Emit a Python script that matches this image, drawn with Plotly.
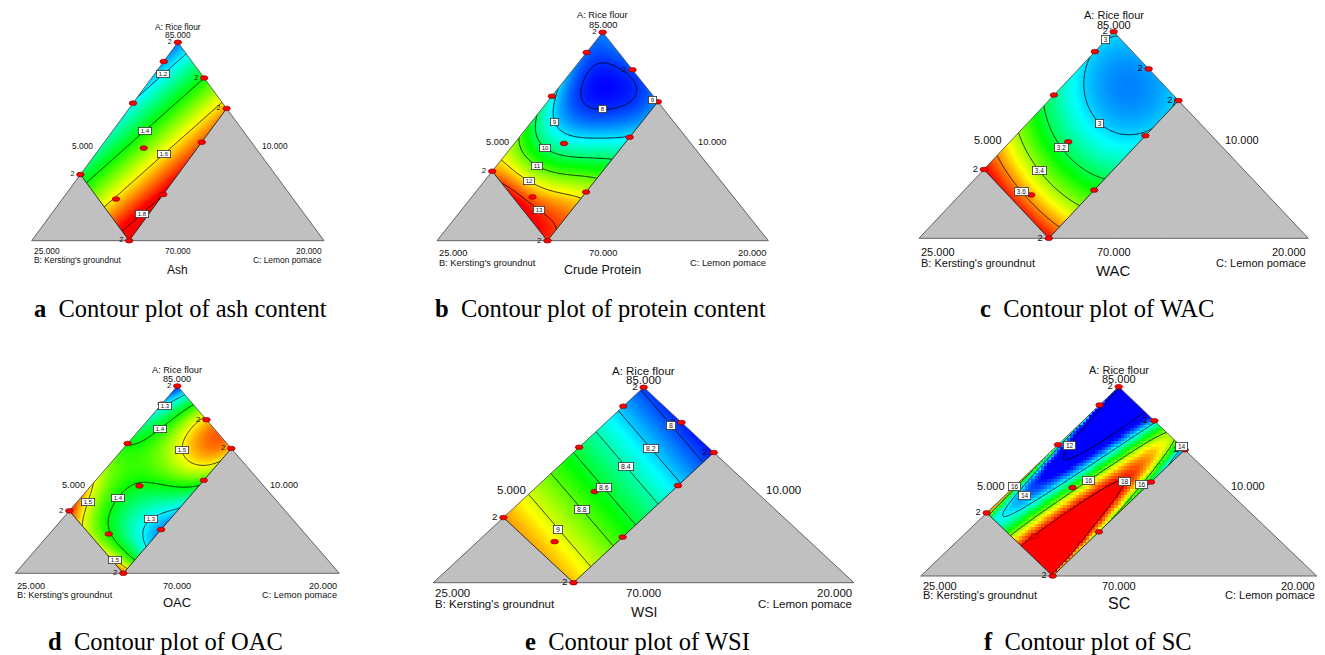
import numpy as np
import plotly.graph_objects as go

FIG_W, FIG_H = 1325, 655
PAGE_OFF = 8.0   # the html page body margin shifts the figure by this many pixels

# ------------------------------------------------------------------
# Mixture design (actual %, A + B + C = 100)
# ------------------------------------------------------------------
A_LOW, B_LOW, C_LOW = 70.0, 10.0, 5.0
SPAN = 15.0                       # simplex span of the pseudo components
B_HIGH, C_HIGH = 20.0, 10.0       # upper constraints that cut the region

design_A = [85.0, 83.55, 80.4, 82.3, 80.0, 75.0, 77.0, 77.45, 73.15, 73.5, 70.0]
design_B = [10.0, 11.45, 14.6, 10.0, 10.0, 20.0, 15.75, 12.55, 19.1, 16.5, 20.0]
design_C = [5.0, 5.0, 5.0, 7.7, 10.0, 5.0, 7.25, 10.0, 7.75, 10.0, 10.0]
design_reps = [2, 1, 1, 2, 2, 2, 1, 1, 1, 1, 2]

# ------------------------------------------------------------------
# Response values (B %, C %, response)
# ------------------------------------------------------------------
ash_B = [14.3, 10.0, 20.0, 14.89, 10.0, 20.0, 14.84, 10.2, 18.3, 20.0, 16.3]
ash_C = [5.0, 5.93, 5.63, 6.5, 7.72, 7.57, 8.37, 9.6, 9.57, 9.4, 10.0]
ash_val = [1.2, 1.2, 1.4, 1.4, 1.4, 1.6, 1.6, 1.6, 1.8, 1.8, 1.8]

protein_B = [11.19, 13.22, 11.02, 12.81, 13.42, 10.6, 12.0,
             14.3, 15.41, 15.6, 14.4, 12.68,
             16.0, 16.52, 16.79, 15.48, 14.1,
             17.6, 17.8, 17.57, 15.9,
             19.0, 18.71, 18.17, 16.83,
             19.65, 19.1, 19.6, 20.0, 20.0, 20.0,
             10.0, 10.0, 10.0, 12.0]
protein_C = [6.22, 6.29, 8.62, 7.78, 6.94, 7.45, 7.35,
             5.0, 6.07, 6.55, 8.23, 9.83,
             5.0, 5.88, 6.57, 8.4, 10.0,
             5.0, 6.85, 7.45, 9.73,
             5.0, 7.04, 8.07, 10.0,
             6.83, 8.52, 10.0, 8.25, 5.0, 10.0,
             5.0, 10.0, 7.5, 5.0]
protein_val = [8, 8, 8, 8, 8, 8, 7.75,
               9, 9, 9, 9, 9,
               10, 10, 10, 10, 10,
               11, 11, 11, 11,
               12, 12, 12, 12,
               13, 13, 13, 13.4, 12.4, 13.1,
               8.4, 8.6, 8.1, 8.5]

wac_B = [10.5, 11.8, 13.0, 13.8, 13.5, 12.1, 10.6, 11.1, 10.0, 10.0, 10.0,
         15.5, 16.3, 16.2, 15.85, 17.4, 17.9, 17.65, 18.8, 19.2, 18.95,
         20.0, 20.0, 20.0]
wac_C = [5.0, 5.15, 5.85, 7.0, 8.85, 9.8, 9.85, 7.75, 5.0, 10.0, 7.5,
         5.0, 7.2, 9.0, 10.0, 5.0, 7.2, 10.0, 5.0, 7.25, 10.0,
         5.0, 10.0, 7.5]
wac_val = [3.0, 3.0, 3.0, 3.0, 3.0, 3.0, 3.0, 2.93, 3.01, 3.0, 2.95,
           3.2, 3.2, 3.2, 3.2, 3.4, 3.4, 3.4, 3.6, 3.6, 3.6,
           3.72, 3.7, 3.68]

oac_B = [10.0, 11.3, 10.0, 10.1, 12.46, 14.27, 14.94,
         10.26, 11.54, 12.24, 12.45, 11.5, 11.09, 10.0, 10.0,
         12.6, 14.39, 15.73, 17.24, 18.61, 19.21, 19.0,
         15.2, 16.49, 17.8, 16.5,
         17.5, 18.75, 20.0, 20.0,
         20.0, 19.71, 19.5, 20.0,
         14.5, 16.2, 13.0, 18.0, 20.0, 13.5]
oac_C = [5.0, 5.0, 5.85, 6.43, 5.86, 6.13, 5.1,
         7.2, 7.25, 7.8, 8.48, 10.0, 8.5, 10.0, 8.5,
         10.0, 8.41, 7.28, 6.63, 7.39, 9.05, 10.0,
         10.0, 9.03, 10.0, 9.75,
         5.0, 5.52, 6.45, 5.0,
         8.5, 9.1, 10.0, 10.0,
         6.75, 5.0, 6.75, 8.0, 7.5, 5.0]
oac_val = [1.2, 1.3, 1.3, 1.4, 1.4, 1.4, 1.4,
           1.5, 1.5, 1.5, 1.5, 1.5, 1.56, 1.52, 1.54,
           1.4, 1.4, 1.4, 1.4, 1.4, 1.4, 1.4,
           1.3, 1.3, 1.3, 1.25,
           1.5, 1.5, 1.5, 1.6,
           1.5, 1.5, 1.5, 1.55,
           1.43, 1.45, 1.45, 1.37, 1.45, 1.35]

wsi_B = [10.59, 10.39, 10.82, 11.45, 11.96, 12.37, 13.37, 13.65, 14.05,
         15.1, 15.18, 15.69, 16.65, 16.8, 17.2, 18.3, 18.45, 18.7]
wsi_C = [5.0, 7.46, 10.0, 5.0, 7.6, 10.0, 5.0, 7.44, 10.0,
         5.0, 7.45, 10.0, 5.0, 7.52, 10.0, 5.0, 7.4, 10.0]
wsi_val = [8.0, 8.0, 8.0, 8.2, 8.2, 8.2, 8.4, 8.4, 8.4,
           8.6, 8.6, 8.6, 8.8, 8.8, 8.8, 9.0, 9.0, 9.0]

# SC read along sections of constant B
sc_section_B = [10.0, 11.5, 13.0, 14.5, 16.0, 18.0, 20.0]
sc_section_C = [
    [5.0, 5.5, 6.0, 6.5, 7.2, 7.7, 8.15, 8.6, 9.0, 9.5, 9.75, 10.0],
    [5.0, 5.15, 5.5, 6.0, 6.5, 7.0, 7.5, 7.85, 8.3, 9.0, 9.5, 10.0],
    [5.0, 5.175, 5.5, 6.0, 6.5, 6.8, 7.1, 7.65, 8.5, 9.0, 9.65, 10.0],
    [5.0, 5.2, 5.5, 5.95, 6.4, 6.9, 7.45, 8.1, 8.78, 9.0, 9.3, 9.88, 10.0],
    [5.0, 5.225, 5.5, 5.9, 6.25, 6.57, 7.34, 7.9, 8.42, 9.0, 9.5, 9.83, 10.0],
    [5.0, 5.25, 5.77, 6.1, 6.5, 7.07, 7.5, 7.93, 9.0, 9.65, 10.0],
    [5.0, 5.5, 6.0, 6.4, 6.8, 7.42, 8.75, 9.65, 10.0],
]
sc_section_val = [
    [12.0, 11.6, 11.4, 11.5, 12.0, 14.0, 15.2, 16.0, 16.3, 15.2, 14.0, 13.2],
    [13.5, 12.0, 11.2, 11.0, 11.3, 12.0, 13.5, 15.0, 16.0, 17.0, 16.3, 14.5],
    [14.5, 12.3, 11.3, 11.0, 11.6, 12.3, 14.0, 16.0, 17.5, 17.8, 16.0, 14.8],
    [15.8, 12.8, 12.6, 12.2, 12.7, 14.0, 16.0, 17.3, 18.0, 18.3, 18.0, 16.0, 15.5],
    [16.5, 13.2, 13.0, 12.6, 13.1, 14.0, 16.0, 17.2, 18.0, 18.6, 18.4, 17.5, 16.0],
    [17.2, 14.5, 13.6, 13.0, 14.0, 16.0, 17.1, 18.0, 19.2, 18.3, 16.5],
    [18.0, 15.0, 14.3, 14.8, 16.0, 18.0, 19.5, 18.8, 17.5],
]
sc_B = [b for b, cs in zip(sc_section_B, sc_section_C) for _ in cs]
sc_C = [c for cs in sc_section_C for c in cs]
sc_val = [z for zs in sc_section_val for z in zs]

titles = ["Ash", "Crude Protein", "WAC", "OAC", "WSI", "SC"]
caption_letters = ["a", "b", "c", "d", "e", "f"]
caption_texts = ["Contour plot of ash content", "Contour plot of protein content",
                 "Contour plot of WAC", "Contour plot of OAC",
                 "Contour plot of WSI", "Contour plot of SC"]

# ------------------------------------------------------------------
# Model terms (in the scaled B (u) and C (v) of the constrained region)
#   (i, j)      -> u^i v^j
#   ('L', i, p) -> u^i (1 - v)^p   (steep edge term at the C-low side)
#   ('R', i, p) -> u^i v^p         (steep edge term at the C-high side)
# ------------------------------------------------------------------
def tensor_terms(pu, pv):
    return [(i, j) for i in range(pu + 1) for j in range(pv + 1)]

LINEAR = [(0, 0), (1, 0), (0, 1)]
SC_TERMS = tensor_terms(3, 4) + [('L', 0, 24), ('L', 1, 24), ('R', 0, 24), ('R', 1, 24)]

RESPONSES = [
    dict(B=ash_B, C=ash_C, val=ash_val, terms=LINEAR, zr=(1.02, 1.78),
         levels=(1.2, 1.8, 0.2), cell=1.0,
         labels=[("1.2", 1.2, 0.176, 0.044), ("1.4", 1.4, 0.489, 0.299),
                 ("1.6", 1.6, 0.484, 0.674), ("1.8", 1.8, 0.83, 0.914)]),
    dict(B=protein_B, C=protein_C, val=protein_val, terms=tensor_terms(3, 3), zr=(7.75, 13.3),
         levels=(8, 13, 1), cell=1.0,
         labels=[("8", 8, 0.281, 0.556), ("9", 9, 0.541, 0.213), ("10", 10, 0.679, 0.313),
                 ("11", 11, 0.78, 0.37), ("12", 12, 0.871, 0.408), ("13", 13, 0.91, 0.704),
                 ("9", None, 0.016, 0.943)]),
    dict(B=wac_B, C=wac_C, val=wac_val, terms=tensor_terms(3, 2), zr=(2.81, 3.72),
         levels=(3.0, 3.6, 0.2), cell=1.0,
         labels=[("3", None, 0.06, 0.0), ("3", 3.0, 0.375, 0.556), ("3.2", 3.2, 0.629, 0.436),
                 ("3.4", 3.4, 0.792, 0.439), ("3.6", 3.6, 0.92, 0.449)]),
    dict(B=oac_B, C=oac_C, val=oac_val, terms=tensor_terms(3, 3), zr=(1.2, 1.6),
         levels=(1.3, 1.5, 0.1), cell=1.0,
         labels=[("1.3", 1.3, 0.126, 0.025), ("1.4", 1.4, 0.2456, 0.171), ("1.5", 1.5, 0.224, 0.56),
                 ("1.4", 1.4, 0.724, 0.325), ("1.3", 1.3, 0.649, 0.805), ("1.5", 1.5, 0.875, 0.103),
                 ("1.5", 1.5, 0.971, 0.819)]),
    dict(B=wsi_B, C=wsi_C, val=wsi_val, terms=LINEAR, zr=(7.88, 9.45),
         levels=(8.0, 9.0, 0.2), cell=1.0,
         labels=[("8", 8.0, 0.0388, 0.491), ("8.2", 8.2, 0.196, 0.52), ("8.4", 8.4, 0.365, 0.488),
                 ("8.6", 8.6, 0.518, 0.49), ("8.8", 8.8, 0.68, 0.504), ("9", 9.0, 0.845, 0.481)]),
    dict(B=sc_B, C=sc_C, val=sc_val, terms=SC_TERMS, zr=(12.65, 18.05),
         levels=(12, 18, 2), cell=3.2,
         labels=[("12", 12, 0.385, 0.128), ("16", 16, 0.479, 0.504), ("18", 18, 0.375, 0.791),
                 ("16", 16, 0.305, 0.933), ("14", None, 0.0, 0.952), ("16", None, 0.79, 0.0),
                 ("14", 14, 0.789, 0.154)]),
]

# ------------------------------------------------------------------
# Panel placement (pixels in the page) and text styling
# ------------------------------------------------------------------
PANELS = [
    dict(xB=31.7, xC=324.0, yA=42.3, yBase=240.7, fs=8.4, t1=7.3, t2=15.5, b1=10.3, b2=19.3,
         sl=-9.5, sr=8.6, tdy=29, tfs=12, cap=(180, 308)),
    dict(xB=437.0, xC=768.3, yA=32.3, yBase=240.7, fs=9.3, t1=7.3, t2=17.2, b1=12.0, b2=22.0,
         sl=-9.0, sr=11.0, tdy=29, tfs=12.5, cap=(600, 308)),
    dict(xB=919.0, xC=1308.3, yA=31.7, yBase=238.3, fs=11.0, t1=6.7, t2=16.8, b1=13.4, b2=24.4,
         sl=-12.0, sr=11.7, tdy=32, tfs=15, cap=(1097, 308)),
    dict(xB=15.3, xC=339.3, yA=386.0, yBase=573.3, fs=9.2, t1=7.0, t2=15.8, b1=12.7, b2=21.7,
         sl=-9.6, sr=10.0, tdy=29, tfs=13, cap=(165, 641)),
    dict(xB=433.3, xC=854.0, yA=387.3, yBase=582.7, fs=11.5, t1=7.3, t2=16.3, b1=10.6, b2=21.6,
         sl=-10.7, sr=14.7, tdy=29, tfs=14, cap=(637, 641)),
    dict(xB=920.7, xC=1316.7, yA=386.7, yBase=576.0, fs=11.0, t1=7.7, t2=16.5, b1=10.0, b2=19.0,
         sl=-12.8, sr=10.8, tdy=27, tfs=16, cap=(1088, 641)),
]

DX_SCALE = [[0.0, 'rgb(0,0,255)'], [0.25, 'rgb(0,255,255)'], [0.5, 'rgb(0,255,0)'],
            [0.75, 'rgb(255,255,0)'], [1.0, 'rgb(255,0,0)']]
SANS = "Liberation Sans, Arial, sans-serif"
SERIF = "Liberation Serif, Times New Roman, serif"
GREY = "#c0c0c0"
NB = "\u00a0"


# ------------------------------------------------------------------
# Helpers
# ------------------------------------------------------------------
def to_xy(A, B, C):
    a = (np.asarray(A, float) - A_LOW) / SPAN
    b = (np.asarray(B, float) - B_LOW) / SPAN
    c = (np.asarray(C, float) - C_LOW) / SPAN
    return 0.5 + (c - b) / 2.0, a


def comp_to_uv(B, C):
    return ((np.asarray(B, float) - B_LOW) / (B_HIGH - B_LOW),
            (np.asarray(C, float) - C_LOW) / (C_HIGH - C_LOW))


def uv_to_xy(u, v):
    B = B_LOW + u * (B_HIGH - B_LOW)
    C = C_LOW + v * (C_HIGH - C_LOW)
    return to_xy(100.0 - B - C, B, C)


def xy_to_uv(x, y):
    c = x - y / 2.0
    b = 1.0 - x - y / 2.0
    return b * SPAN / (B_HIGH - B_LOW), c * SPAN / (C_HIGH - C_LOW)


def basis(u, v, t):
    if t[0] == 'L':
        return np.power(u, t[1]) * np.power(1.0 - v, t[2])
    if t[0] == 'R':
        return np.power(u, t[1]) * np.power(v, t[2])
    return np.power(u, t[0]) * np.power(v, t[1])


def fit_model(resp):
    u, v = comp_to_uv(resp['B'], resp['C'])
    X = np.column_stack([basis(u, v, t) for t in resp['terms']])
    z = np.asarray(resp['val'], float)
    lam = 1e-6
    return np.linalg.solve(X.T @ X + lam * np.eye(X.shape[1]), X.T @ z)


def predict(coef, terms, u, v):
    u = np.asarray(u, float)
    v = np.asarray(v, float)
    out = np.zeros(np.broadcast(u, v).shape)
    for cf, t in zip(coef, terms):
        out = out + cf * basis(u, v, t)
    return out


def snap(coef, terms, level, u0, v0):
    if level is None:
        return u0, v0
    u, v = u0, v0
    h = 1e-4
    for _ in range(12):
        f = float(predict(coef, terms, u, v)) - level
        gu = (float(predict(coef, terms, u + h, v)) - float(predict(coef, terms, u - h, v))) / (2 * h)
        gv = (float(predict(coef, terms, u, v + h)) - float(predict(coef, terms, u, v - h))) / (2 * h)
        g2 = gu * gu + gv * gv
        if g2 < 1e-12:
            break
        u = min(max(u - f * gu / g2, 0.0), 1.0)
        v = min(max(v - f * gv / g2, 0.0), 1.0)
    ok = abs(float(predict(coef, terms, u, v)) - level) < 0.02 * abs(level) and np.hypot(u - u0, v - v0) < 0.15
    return (u, v) if ok else (u0, v0)


def px_to_paper_x(px):
    return (px - PAGE_OFF) / FIG_W


def px_to_paper_y(py):
    return 1.0 - (py - PAGE_OFF) / FIG_H


# Corner compositions of the triangle and of the constrained region
apex_xy = to_xy(A_LOW + SPAN, B_LOW, C_LOW)
bvert_xy = to_xy(A_LOW, B_LOW + SPAN, C_LOW)
cvert_xy = to_xy(A_LOW, B_LOW, C_LOW + SPAN)
left_xy = to_xy(100 - B_HIGH - C_LOW, B_HIGH, C_LOW)
bottom_xy = to_xy(100 - B_HIGH - C_HIGH, B_HIGH, C_HIGH)
right_xy = to_xy(100 - B_LOW - C_HIGH, B_LOW, C_HIGH)
x_left, x_right = float(left_xy[0]), float(right_xy[0])

fig = go.Figure()
annotations = []
shapes = []
layout_axes = {}
PAD = 6.0

dx_all, dy_all = to_xy(design_A, design_B, design_C)

for k, (P, R) in enumerate(zip(PANELS, RESPONSES), start=1):
    sx = '' if k == 1 else str(k)
    xa, ya = 'x' + sx, 'y' + sx
    wpx = P['xC'] - P['xB']
    hpx = P['yBase'] - P['yA']
    px_x, px_y = PAD / wpx, PAD / hpx
    layout_axes['xaxis' + sx] = dict(domain=[px_to_paper_x(P['xB'] - PAD), px_to_paper_x(P['xC'] + PAD)],
                                     range=[-px_x, 1 + px_x], visible=False, fixedrange=True,
                                     anchor=ya)
    layout_axes['yaxis' + sx] = dict(domain=[px_to_paper_y(P['yBase'] + PAD), px_to_paper_y(P['yA'] - PAD)],
                                     range=[-px_y, 1 + px_y], visible=False, fixedrange=True,
                                     anchor=xa)

    coef = fit_model(R)
    terms = R['terms']

    # colour field
    rect_w = (x_right - x_left) * wpx
    nx = max(12, int(round(rect_w / R['cell'])))
    ny = max(12, int(round(hpx / R['cell'])))
    xe = np.linspace(x_left, x_right, nx + 1)
    ye = np.linspace(1.0 / hpx, 1.0, ny + 1)
    XX, YY = np.meshgrid(0.5 * (xe[1:] + xe[:-1]), 0.5 * (ye[1:] + ye[:-1]))
    U, V = xy_to_uv(XX, YY)
    Z = predict(coef, terms, np.clip(U, -0.05, 1.05), np.clip(V, -0.05, 1.05))
    fig.add_trace(go.Heatmap(x=xe, y=ye, z=Z, colorscale=DX_SCALE, zmin=R['zr'][0], zmax=R['zr'][1],
                             showscale=False, hoverinfo='skip', xaxis=xa, yaxis=ya))

    # contour lines
    xg = np.linspace(x_left, x_right, 150)
    yg = np.linspace(0.0, 1.0, 170)
    XG, YG = np.meshgrid(xg, yg)
    UG, VG = xy_to_uv(XG, YG)
    ZG = predict(coef, terms, np.clip(UG, -0.05, 1.05), np.clip(VG, -0.05, 1.05))
    s0, s1, ss = R['levels']
    fig.add_trace(go.Contour(x=xg, y=yg, z=ZG, autocontour=False,
                             contours=dict(start=s0, end=s1 + 1e-9, size=ss, coloring='none',
                                           showlabels=False),
                             line=dict(color='black', width=0.8), showscale=False,
                             hoverinfo='skip', xaxis=xa, yaxis=ya))

    # masks outside the constrained region
    ax_, ay_ = float(apex_xy[0]), float(apex_xy[1])
    lx, ly = float(left_xy[0]), float(left_xy[1])
    rx, ry = float(right_xy[0]), float(right_xy[1])
    for poly in ([(ax_, ay_), (lx, ly), (lx - 0.05, ly), (lx - 0.05, 1.05), (ax_, 1.05)],
                 [(ax_, ay_), (rx, ry), (rx + 0.05, ry), (rx + 0.05, 1.05), (ax_, 1.05)]):
        fig.add_trace(go.Scatter(x=[p[0] for p in poly], y=[p[1] for p in poly], fill='toself',
                                 fillcolor='white', mode='lines', line=dict(width=0),
                                 hoverinfo='skip', xaxis=xa, yaxis=ya))
    for poly in ([bvert_xy, left_xy, bottom_xy], [bottom_xy, right_xy, cvert_xy]):
        fig.add_trace(go.Scatter(x=[float(p[0]) for p in poly], y=[float(p[1]) for p in poly],
                                 fill='toself', fillcolor=GREY, mode='lines',
                                 line=dict(width=0), hoverinfo='skip', xaxis=xa, yaxis=ya))
    tri = [apex_xy, bvert_xy, cvert_xy, apex_xy]
    fig.add_trace(go.Scatter(x=[float(p[0]) for p in tri], y=[float(p[1]) for p in tri], mode='lines',
                             line=dict(color='#555555', width=0.9), hoverinfo='skip',
                             cliponaxis=False, xaxis=xa, yaxis=ya))
    inner = [left_xy, bottom_xy, right_xy]
    fig.add_trace(go.Scatter(x=[float(p[0]) for p in inner], y=[float(p[1]) for p in inner],
                             mode='lines', line=dict(color='#222222', width=0.9), hoverinfo='skip',
                             xaxis=xa, yaxis=ya))

    # design points (ellipses) + replicate counts
    ex, ey = 3.8 / wpx, 2.3 / hpx
    for xd, yd in zip(dx_all, dy_all):
        shapes.append(dict(type='circle', xref=xa, yref=ya, x0=xd - ex, x1=xd + ex,
                           y0=yd - ey, y1=yd + ey, fillcolor='#ff0000',
                           line=dict(color='#8a0000', width=0.7), layer='above'))
    rep_x = [float(x) for x, r in zip(dx_all, design_reps) if r > 1]
    rep_y = [float(y) for y, r in zip(dy_all, design_reps) if r > 1]
    rep_t = [str(r) for r in design_reps if r > 1]
    fig.add_trace(go.Scatter(x=rep_x, y=rep_y, text=rep_t, mode='markers+text',
                             textposition='middle left',
                             marker=dict(size=8, color='rgba(0,0,0,0)'),
                             textfont=dict(family=SANS, size=P['fs'] * 0.85, color='#111111'),
                             cliponaxis=False, hoverinfo='skip', xaxis=xa, yaxis=ya))

    # contour labels (white boxes)
    lab_fs = max(6.0, 0.0165 * wpx)
    for text, level, u0, v0 in R['labels']:
        uu, vv = snap(coef, terms, level, u0, v0)
        lxp, lyp = uv_to_xy(uu, vv)
        annotations.append(dict(x=float(lxp), y=float(lyp), xref=xa, yref=ya, text=NB + text + NB,
                                showarrow=False, bgcolor='white', bordercolor='#333333',
                                borderwidth=0.8, borderpad=0.3,
                                font=dict(family=SANS, size=lab_fs, color='#111111')))

    # axis texts
    fs = P['fs']
    tf = dict(family=SANS, size=fs, color='#111111')

    def add_txt(text, x, y, xs=0, ys=0, xanchor='center', font=tf):
        annotations.append(dict(x=x, y=y, xref=xa, yref=ya, text=text, showarrow=False,
                                xshift=xs, yshift=ys, xanchor=xanchor, yanchor='middle',
                                font=font))

    add_txt("A: Rice flour", 0.5, 1.0, ys=P['t2'])
    add_txt("%.3f" % (A_LOW + SPAN), 0.5, 1.0, ys=P['t1'])
    add_txt("%.3f" % (B_LOW + SPAN), 0.0, 0.0, ys=-P['b1'], xanchor='left')
    add_txt("B: Kersting's groundnut", 0.0, 0.0, ys=-P['b2'], xanchor='left')
    add_txt("%.3f" % A_LOW, 0.5, 0.0, ys=-P['b1'])
    add_txt("%.3f" % (C_LOW + SPAN), 1.0, 0.0, ys=-P['b1'], xanchor='right')
    add_txt("C: Lemon pomace", 1.0, 0.0, ys=-P['b2'], xanchor='right')
    add_txt("%.3f" % C_LOW, 0.25, 0.5, xs=P['sl'], ys=-5, xanchor='right')
    add_txt("%.3f" % B_LOW, 0.75, 0.5, xs=P['sr'], ys=-5, xanchor='left')
    add_txt(titles[k - 1], 0.5, 0.0, ys=-P['tdy'],
            font=dict(family=SANS, size=P['tfs'], color='#111111'))

    # caption
    cx, cy = P['cap']
    annotations.append(dict(x=px_to_paper_x(cx), y=px_to_paper_y(cy), xref='paper', yref='paper',
                            text="<b>%s</b>\u00a0\u00a0%s" % (caption_letters[k - 1], caption_texts[k - 1]),
                            showarrow=False, xanchor='center', yanchor='middle',
                            font=dict(family=SERIF, size=24.5, color='black')))

fig.update_layout(width=FIG_W, height=FIG_H, margin=dict(l=0, r=0, t=0, b=0),
                  paper_bgcolor='white', plot_bgcolor='white', showlegend=False,
                  hovermode=False, annotations=annotations, shapes=shapes, **layout_axes)

fig.write_html("out.html")
